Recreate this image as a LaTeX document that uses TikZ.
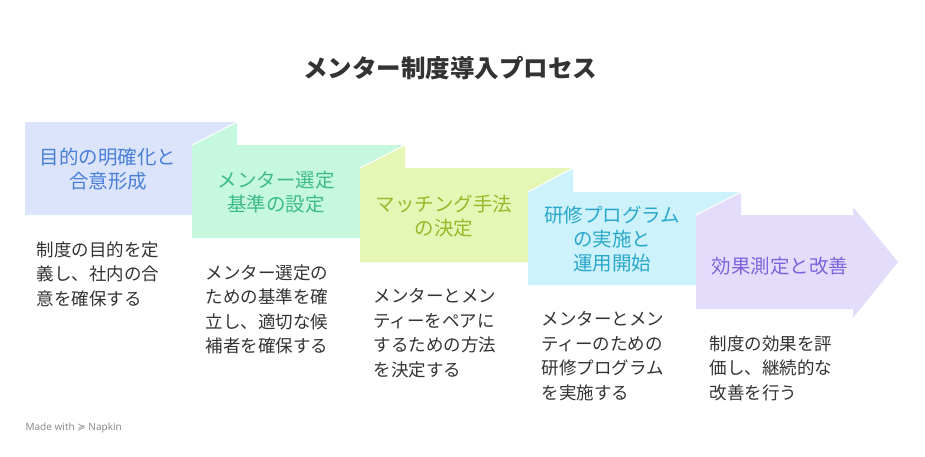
\documentclass[tikz,border=0pt]{standalone}
\usepackage{fontspec}
\setmainfont{Noto Sans CJK JP}
\newfontfamily\lat{Noto Sans}
\newfontfamily\dejavu{DejaVu Sans}
\definecolor{c1}{HTML}{DBE4FB}\definecolor{t1}{HTML}{4A7FD8}
\definecolor{c2}{HTML}{C6F8E0}\definecolor{t2}{HTML}{3DBB8A}
\definecolor{c3}{HTML}{E6F7B5}\definecolor{t3}{HTML}{9AB82A}
\definecolor{c4}{HTML}{CDF2FB}\definecolor{t4}{HTML}{2AA8CC}
\definecolor{c5}{HTML}{E3DDFB}\definecolor{t5}{HTML}{7F62DE}
\begin{document}
\begin{tikzpicture}[x=1pt,y=-1pt,
 lab/.style={align=center,font=\fontsize{19.5}{24}\selectfont},
 desc/.style={align=left,anchor=north west,font=\fontsize{17.5}{24.5}\selectfont,text=black!80},
 edge/.style={draw=white,line width=1pt}]
\useasboundingbox (0,0) rectangle (925,456);
\fill[white] (0,0) rectangle (925,456);
\node[font=\bfseries\fontsize{24.5}{28}\selectfont,text=black!80] (title) at (450,68) {メンター制度導入プロセス};
% boxes
\fill[c1] (25,122) -- (237,122) -- (192,145) -- (192,215) -- (25,215) -- cycle;
\fill[c2] (192,145) -- (237,122) -- (237,145) -- (405,145) -- (360,168) -- (360,238) -- (192,238) -- cycle;
\fill[c3] (360,168) -- (405,145) -- (405,168) -- (573,168) -- (528,192) -- (528,262) -- (360,262) -- cycle;
\fill[c4] (528,192) -- (573,168) -- (573,192) -- (741,192) -- (696,215) -- (696,285) -- (528,285) -- cycle;
\fill[c5] (696,215) -- (741,192) -- (741,215) -- (853,215) -- (853,207) -- (898,262) -- (853,318) -- (853,309) -- (696,309) -- cycle;
\draw[edge] (237,122) -- (192,145);
\draw[edge] (405,145) -- (360,168);
\draw[edge] (573,168) -- (528,192);
\draw[edge] (741,192) -- (696,215);
\node[lab,text=t1] (b1) at (108,169) {目的の明確化と\\合意形成};
\node[lab,text=t2] (b2) at (276,192) {メンター選定\\基準の設定};
\node[lab,text=t3] (b3) at (444,216) {マッチング手法\\の決定};
\node[lab,text=t4] (b4) at (612,239) {研修プログラム\\の実施と\\運用開始};
\node[lab,text=t5] (b5) at (780,266) {効果測定と改善};
\node[desc] (d1) at (33,238) {制度の目的を定\\義し、社内の合\\意を確保する};
\node[desc] (d2) at (202,261) {メンター選定の\\ための基準を確\\立し、適切な候\\補者を確保する};
\node[desc] (d3) at (370,285) {メンターとメン\\ティーをペアに\\するための方法\\を決定する};
\node[desc] (d4) at (538,308) {メンターとメン\\ティーのための\\研修プログラム\\を実施する};
\node[desc] (d5) at (706,332) {制度の効果を評\\価し、継続的な\\改善を行う};
\node[anchor=west,font=\lat\fontsize{10}{11}\selectfont,text=black!45] (mw) at (22,428) {Made with {\dejavu ≽} Napkin};
\end{tikzpicture}
\end{document}
